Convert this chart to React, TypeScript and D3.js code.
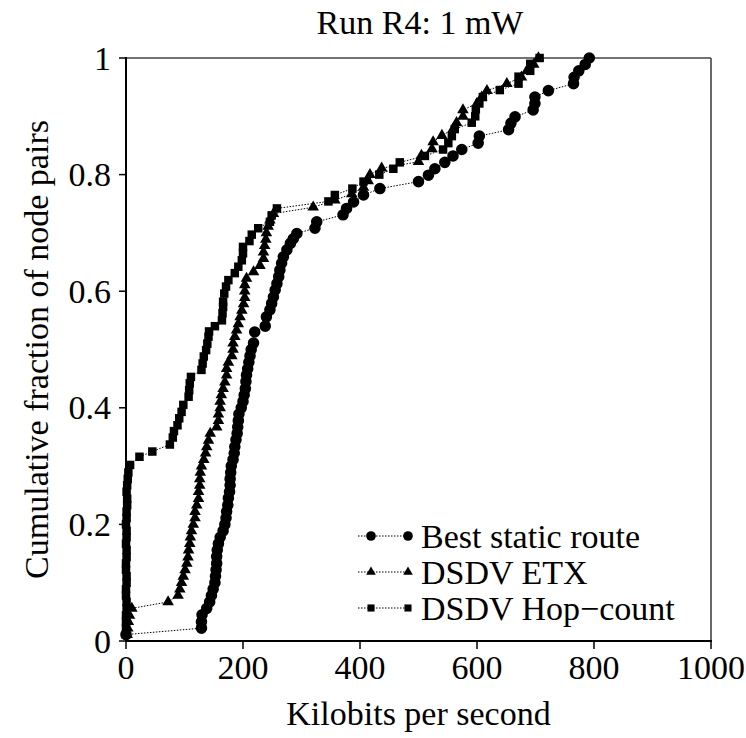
import * as d3 from 'd3';

// CDF of throughput per node pair
const bestX = [0, 129, 129, 130, 138, 143, 146, 149, 152, 153, 154, 155, 155, 156, 158, 161, 166, 169, 171, 172, 174, 175, 177, 178, 178, 179, 180, 183, 185, 186, 188, 190, 191, 192, 193, 197, 200, 202, 204, 205, 206, 208, 210, 212, 214, 218, 220, 238, 240, 246, 249, 252, 255, 258, 261, 263, 266, 269, 275, 281, 286, 292, 323, 326, 371, 377, 389, 406, 434, 500, 517, 528, 545, 559, 574, 602, 604, 654, 658, 665, 696, 699, 699, 722, 765, 766, 774, 785, 792];
const bestY = [0.011, 0.022, 0.033, 0.045, 0.056, 0.067, 0.078, 0.089, 0.1, 0.111, 0.122, 0.133, 0.145, 0.156, 0.167, 0.178, 0.189, 0.2, 0.211, 0.222, 0.233, 0.245, 0.256, 0.267, 0.278, 0.289, 0.3, 0.311, 0.322, 0.333, 0.345, 0.356, 0.367, 0.378, 0.389, 0.4, 0.411, 0.422, 0.433, 0.445, 0.456, 0.467, 0.478, 0.489, 0.5, 0.511, 0.53, 0.54, 0.556, 0.568, 0.579, 0.59, 0.602, 0.613, 0.625, 0.636, 0.648, 0.659, 0.671, 0.682, 0.69, 0.699, 0.708, 0.719, 0.731, 0.742, 0.753, 0.765, 0.776, 0.788, 0.799, 0.81, 0.821, 0.832, 0.843, 0.854, 0.866, 0.877, 0.888, 0.899, 0.911, 0.922, 0.933, 0.944, 0.956, 0.967, 0.978, 0.989, 1.0];

const etxX = [2, 3, 4, 6, 10, 72, 89, 92, 95, 98, 101, 104, 106, 107, 109, 110, 112, 115, 118, 118, 121, 124, 124, 126, 126, 127, 129, 133, 136, 138, 141, 144, 155, 158, 158, 161, 161, 163, 166, 169, 172, 172, 175, 181, 183, 183, 186, 189, 192, 195, 198, 201, 203, 203, 203, 206, 218, 229, 235, 235, 237, 239, 240, 243, 246, 252, 320, 357, 386, 406, 414, 417, 437, 500, 505, 523, 525, 540, 559, 565, 576, 576, 600, 608, 617, 651, 676, 685, 697, 705];
const etxY = [0.011, 0.022, 0.033, 0.044, 0.056, 0.067, 0.078, 0.089, 0.1, 0.111, 0.122, 0.133, 0.144, 0.156, 0.167, 0.178, 0.189, 0.2, 0.211, 0.222, 0.233, 0.244, 0.256, 0.267, 0.278, 0.289, 0.3, 0.311, 0.322, 0.333, 0.344, 0.356, 0.367, 0.378, 0.389, 0.4, 0.411, 0.422, 0.433, 0.444, 0.456, 0.467, 0.478, 0.489, 0.5, 0.511, 0.522, 0.533, 0.544, 0.556, 0.567, 0.578, 0.589, 0.6, 0.611, 0.622, 0.633, 0.644, 0.656, 0.667, 0.678, 0.689, 0.7, 0.711, 0.722, 0.733, 0.744, 0.756, 0.767, 0.778, 0.789, 0.8, 0.811, 0.822, 0.833, 0.844, 0.856, 0.867, 0.878, 0.889, 0.9, 0.911, 0.922, 0.933, 0.944, 0.956, 0.967, 0.978, 0.989, 1.0];

const hopX = [0, 0, 0, 0, 1, 1, 0, 0, 1, 1, 0, 0, 1, 1, 0, 1, 1, 0, 1, 1, 2, 2, 1, 2, 3, 4, 7, 23, 45, 75, 80, 82, 88, 91, 95, 98, 107, 108, 109, 111, 129, 131, 133, 137, 139, 141, 142, 152, 164, 165, 166, 166, 168, 171, 175, 186, 192, 198, 200, 200, 211, 215, 226, 246, 249, 258, 346, 357, 387, 406, 433, 457, 468, 511, 542, 551, 557, 562, 591, 597, 598, 604, 610, 639, 671, 671, 691, 691, 707];
const hopY = [0.011, 0.022, 0.033, 0.044, 0.056, 0.067, 0.078, 0.089, 0.1, 0.111, 0.122, 0.133, 0.144, 0.156, 0.167, 0.178, 0.189, 0.2, 0.211, 0.222, 0.233, 0.244, 0.256, 0.267, 0.278, 0.289, 0.302, 0.316, 0.325, 0.337, 0.349, 0.36, 0.37, 0.382, 0.393, 0.405, 0.419, 0.43, 0.442, 0.453, 0.465, 0.476, 0.488, 0.499, 0.51, 0.522, 0.531, 0.54, 0.55, 0.562, 0.573, 0.582, 0.596, 0.608, 0.619, 0.631, 0.642, 0.653, 0.665, 0.676, 0.686, 0.697, 0.708, 0.719, 0.73, 0.742, 0.754, 0.765, 0.776, 0.788, 0.8, 0.81, 0.821, 0.832, 0.843, 0.854, 0.866, 0.878, 0.889, 0.9, 0.912, 0.922, 0.933, 0.945, 0.956, 0.968, 0.978, 0.99, 1.0];

const seriesNames = ['Best static route', 'DSDV ETX', 'DSDV Hop\u2212count'];
const xTicks = [0, 200, 400, 600, 800, 1000];
const yTicks = [0, 0.2, 0.4, 0.6, 0.8, 1];

const font = '"Liberation Serif", "Times New Roman", serif';

export default function App() {
  const left = 126, right = 711, top = 58, bottom = 641;
  const x = d3.scaleLinear().domain([0, 1000]).range([left, right]);
  const y = d3.scaleLinear().domain([0, 1]).range([bottom, top]);

  const series = [
    { xs: bestX, ys: bestY, sym: d3.symbolCircle, size: 105 },
    { xs: etxX, ys: etxY, sym: d3.symbolTriangle, size: 58 },
    { xs: hopX, ys: hopY, sym: d3.symbolSquare, size: 72 },
  ];

  const line = d3.line<[number, number]>()
    .x(d => x(d[0]))
    .y(d => y(d[1]));

  const legendY = [536, 572, 608];

  return (
    <svg width={746} height={738} style={{ position: 'absolute', left: 0, top: 0, background: '#fff' }}
      fontFamily={font}>
      <text x={420} y={34} fontSize={34} textAnchor="middle">Run R4: 1 mW</text>

      {/* frame */}
      <line x1={left} x2={right} y1={top} y2={top} stroke="#444" strokeWidth={1.6} />
      <line x1={right} x2={right} y1={top} y2={bottom} stroke="#444" strokeWidth={1.6} />

      {series.map((s, i) => {
        const pts = s.xs.map((v, j) => [v, s.ys[j]] as [number, number]);
        const path = d3.symbol().type(s.sym).size(s.size)() as string;
        return (
          <g key={i}>
            <path d={line(pts) as string} fill="none" stroke="#000" strokeWidth={1} strokeDasharray="1.5,1.5" />
            {pts.map((p, j) => (
              <path key={j} d={path} transform={`translate(${x(p[0])},${y(p[1])})`} fill="#000" />
            ))}
          </g>
        );
      })}

      {/* axes */}
      <line x1={left} x2={left} y1={top - 1} y2={bottom + 1} stroke="#000" strokeWidth={2} />
      <line x1={left - 1} x2={right + 1} y1={bottom} y2={bottom} stroke="#000" strokeWidth={2} />
      {xTicks.map(t => (
        <g key={t}>
          <line x1={x(t)} x2={x(t)} y1={bottom} y2={bottom + 8} stroke="#000" strokeWidth={1.5} />
          <text x={x(t)} y={bottom + 38} fontSize={34} textAnchor="middle">{t}</text>
        </g>
      ))}
      {yTicks.map(t => (
        <g key={t}>
          <line x1={left - 7} x2={left} y1={y(t)} y2={y(t)} stroke="#000" strokeWidth={1.5} />
          <text x={left - 15} y={y(t)} dy="0.34em" fontSize={34} textAnchor="end">{d3.format('~g')(t)}</text>
        </g>
      ))}

      <text x={(left + right) / 2} y={725} fontSize={34} textAnchor="middle">Kilobits per second</text>
      <text transform={`translate(48,${(top + bottom) / 2}) rotate(-90)`} fontSize={34} textAnchor="middle">
        Cumulative fraction of node pairs
      </text>

      {/* legend */}
      {series.map((s, i) => {
        const path = d3.symbol().type(s.sym).size(s.size * 0.7)() as string;
        const ly = legendY[i];
        return (
          <g key={'lg' + i}>
            <line x1={358} x2={409} y1={ly} y2={ly} stroke="#000" strokeWidth={1} strokeDasharray="1.5,1.5" />
            <path d={path} transform={`translate(371,${ly})`} fill="#000" />
            <path d={path} transform={`translate(408,${ly})`} fill="#000" />
            <text x={421} y={ly + 12} fontSize={34}>{seriesNames[i]}</text>
          </g>
        );
      })}
    </svg>
  );
}
